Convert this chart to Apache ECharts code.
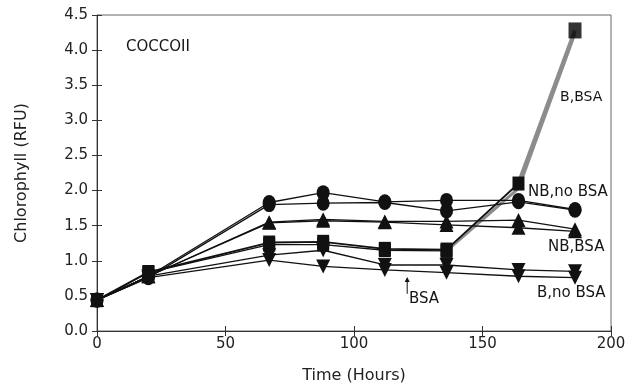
<!DOCTYPE html>
<html><head><meta charset="utf-8">
<script src="https://cdn.jsdelivr.net/npm/echarts@6/dist/echarts.min.js"></script>
<style>html,body{margin:0;padding:0;background:#fff}#c{width:629px;height:389px}</style>
</head><body><div id="c"></div>
<script>
// ---- data ----
const times = [0, 20, 67, 88, 112, 136, 164, 186];
const nbNoBsaA = [0.44, 0.78, 1.83, 1.97, 1.84, 1.86, 1.86, 1.73];
const nbNoBsaB = [0.44, 0.76, 1.80, 1.82, 1.83, 1.71, 1.84, 1.72];
const nbBsaA   = [0.44, 0.78, 1.55, 1.59, 1.56, 1.56, 1.58, 1.45];
const nbBsaB   = [0.44, 0.78, 1.54, 1.57, 1.55, 1.51, 1.47, 1.42];
const bBsaA    = [0.44, 0.84, 1.26, 1.27, 1.17, 1.16, 2.10, 4.28];
const bBsaB    = [0.44, 0.83, 1.23, 1.23, 1.15, 1.14, 2.03, 4.24];
const bNoBsaA  = [0.44, 0.78, 1.08, 1.15, 0.94, 0.94, 0.87, 0.85];
const bNoBsaB  = [0.44, 0.76, 1.01, 0.92, 0.87, 0.83, 0.78, 0.76];
const yTicks = [0, 0.5, 1, 1.5, 2, 2.5, 3, 3.5, 4, 4.5];
const xTicks = [0, 50, 100, 150, 200];
const bsaAddedTime = 120.7;

// ---- layout ----
const FONT = 'DejaVu Sans';
const INK = '#111';
const labels = [
  {text: 'COCCOII', t: 11.3, v: 4.04, size: 15},
  {text: 'B,BSA', t: 180.2, v: 3.33, size: 14},
  {text: 'NB,no BSA', t: 167.7, v: 1.98, size: 15},
  {text: 'NB,BSA', t: 175.5, v: 1.20, size: 15},
  {text: 'B,no BSA', t: 171.2, v: 0.54, size: 15},
  {text: 'BSA', t: 121.4, v: 0.46, size: 15}
];

const pts = (ys, from, to) => times.map((t, i) => [t, ys[i]]).slice(from, to);

function lineSeries(ys, symbol, size, rotate, from, to, opts) {
  return Object.assign({
    type: 'line', data: pts(ys, from, to), symbol: symbol, symbolSize: size,
    symbolRotate: rotate || 0, showSymbol: true,
    lineStyle: {color: INK, width: 1.3}, itemStyle: {color: INK},
    z: 3, animation: false, silent: true
  }, opts || {});
}

const series = [
  lineSeries(bBsaB, 'none', 0, 0, 5, 8, {lineStyle: {color: '#8c8c8c', width: 3}, z: 1}),
  lineSeries(bBsaA, 'none', 0, 0, 6, 8, {lineStyle: {color: '#8c8c8c', width: 4}, z: 1}),
  lineSeries(nbNoBsaA, 'circle', [13, 15], 0, 0, 8),
  lineSeries(nbNoBsaB, 'circle', [13, 15], 0, 0, 8),
  lineSeries(nbBsaA, 'triangle', 14, 0, 0, 8),
  lineSeries(nbBsaB, 'triangle', 14, 0, 0, 8),
  lineSeries(bBsaA, 'rect', [12, 14], 0, 0, 7, {lineStyle: {color: INK, width: 1.8}}),
  lineSeries(bBsaB, 'rect', [12, 14], 0, 0, 6),
  lineSeries(bNoBsaA, 'triangle', 14, 180, 0, 8),
  lineSeries(bNoBsaB, 'triangle', 14, 180, 0, 8),
  {type: 'scatter', data: pts(bBsaA, 7, 8), symbol: 'rect', symbolSize: [13, 16], itemStyle: {color: '#000'}, z: 6, animation: false, silent: true}
];

const axisLine = {lineStyle: {color: '#333', width: 1}};
const chart = echarts.init(document.getElementById('c'), null, {renderer: 'canvas'});
chart.setOption({
  animation: false,
  backgroundColor: '#fff',
  grid: {left: 97, right: 18, top: 15, bottom: 58, show: true, borderColor: '#666', borderWidth: 1, backgroundColor: 'transparent'},
  xAxis: [
    {type: 'value', min: xTicks[0], max: xTicks[xTicks.length - 1], interval: 50,
     name: 'Time (Hours)', nameLocation: 'middle', nameGap: 37,
     nameTextStyle: {fontFamily: FONT, fontSize: 16, color: '#222'},
     axisLine: axisLine, splitLine: {show: false},
     axisTick: {inside: false, length: 5, lineStyle: {color: '#333'}},
     axisLabel: {fontFamily: FONT, fontSize: 15, color: '#222', margin: 6}},
    {type: 'value', min: xTicks[0], max: xTicks[xTicks.length - 1], interval: 50, position: 'bottom',
     axisLine: {show: false}, splitLine: {show: false}, axisLabel: {show: false},
     axisTick: {inside: true, length: 5, lineStyle: {color: '#333'}}}
  ],
  yAxis: [
    {type: 'value', min: yTicks[0], max: yTicks[yTicks.length - 1], interval: 0.5,
     name: 'Chlorophyll (RFU)', nameLocation: 'middle', nameGap: 67, nameRotate: 90,
     nameTextStyle: {fontFamily: FONT, fontSize: 16, color: '#222'},
     axisLine: axisLine, splitLine: {show: false},
     axisTick: {inside: false, length: 5, lineStyle: {color: '#333'}},
     axisLabel: {fontFamily: FONT, fontSize: 15, color: '#222', margin: 9, formatter: v => v.toFixed(1)}},
    {type: 'value', min: yTicks[0], max: yTicks[yTicks.length - 1], interval: 0.5, position: 'left',
     axisLine: {show: false}, splitLine: {show: false}, axisLabel: {show: false},
     axisTick: {inside: true, length: 5, lineStyle: {color: '#333'}}}
  ],
  series: series
});

const px = (t, v) => chart.convertToPixel({gridIndex: 0}, [t, v]);
const graphics = labels.map(l => {
  const p = px(l.t, l.v);
  return {type: 'text', x: p[0], y: p[1], z: 10, silent: true,
    style: {text: l.text, fill: '#151515', font: l.size + 'px "' + FONT + '"', textVerticalAlign: 'middle', textAlign: 'left'}};
});
const arrTop = px(bsaAddedTime, 0.77), arrBot = px(bsaAddedTime, 0.53);
graphics.push({type: 'line', shape: {x1: arrTop[0], y1: arrTop[1] + 2, x2: arrBot[0], y2: arrBot[1]}, style: {stroke: INK, lineWidth: 1}, silent: true});
graphics.push({type: 'polygon', shape: {points: [[arrTop[0], arrTop[1]], [arrTop[0] - 2.5, arrTop[1] + 5], [arrTop[0] + 2.5, arrTop[1] + 5]]}, style: {fill: INK}, silent: true});
chart.setOption({graphic: graphics});
</script>
</body></html>
